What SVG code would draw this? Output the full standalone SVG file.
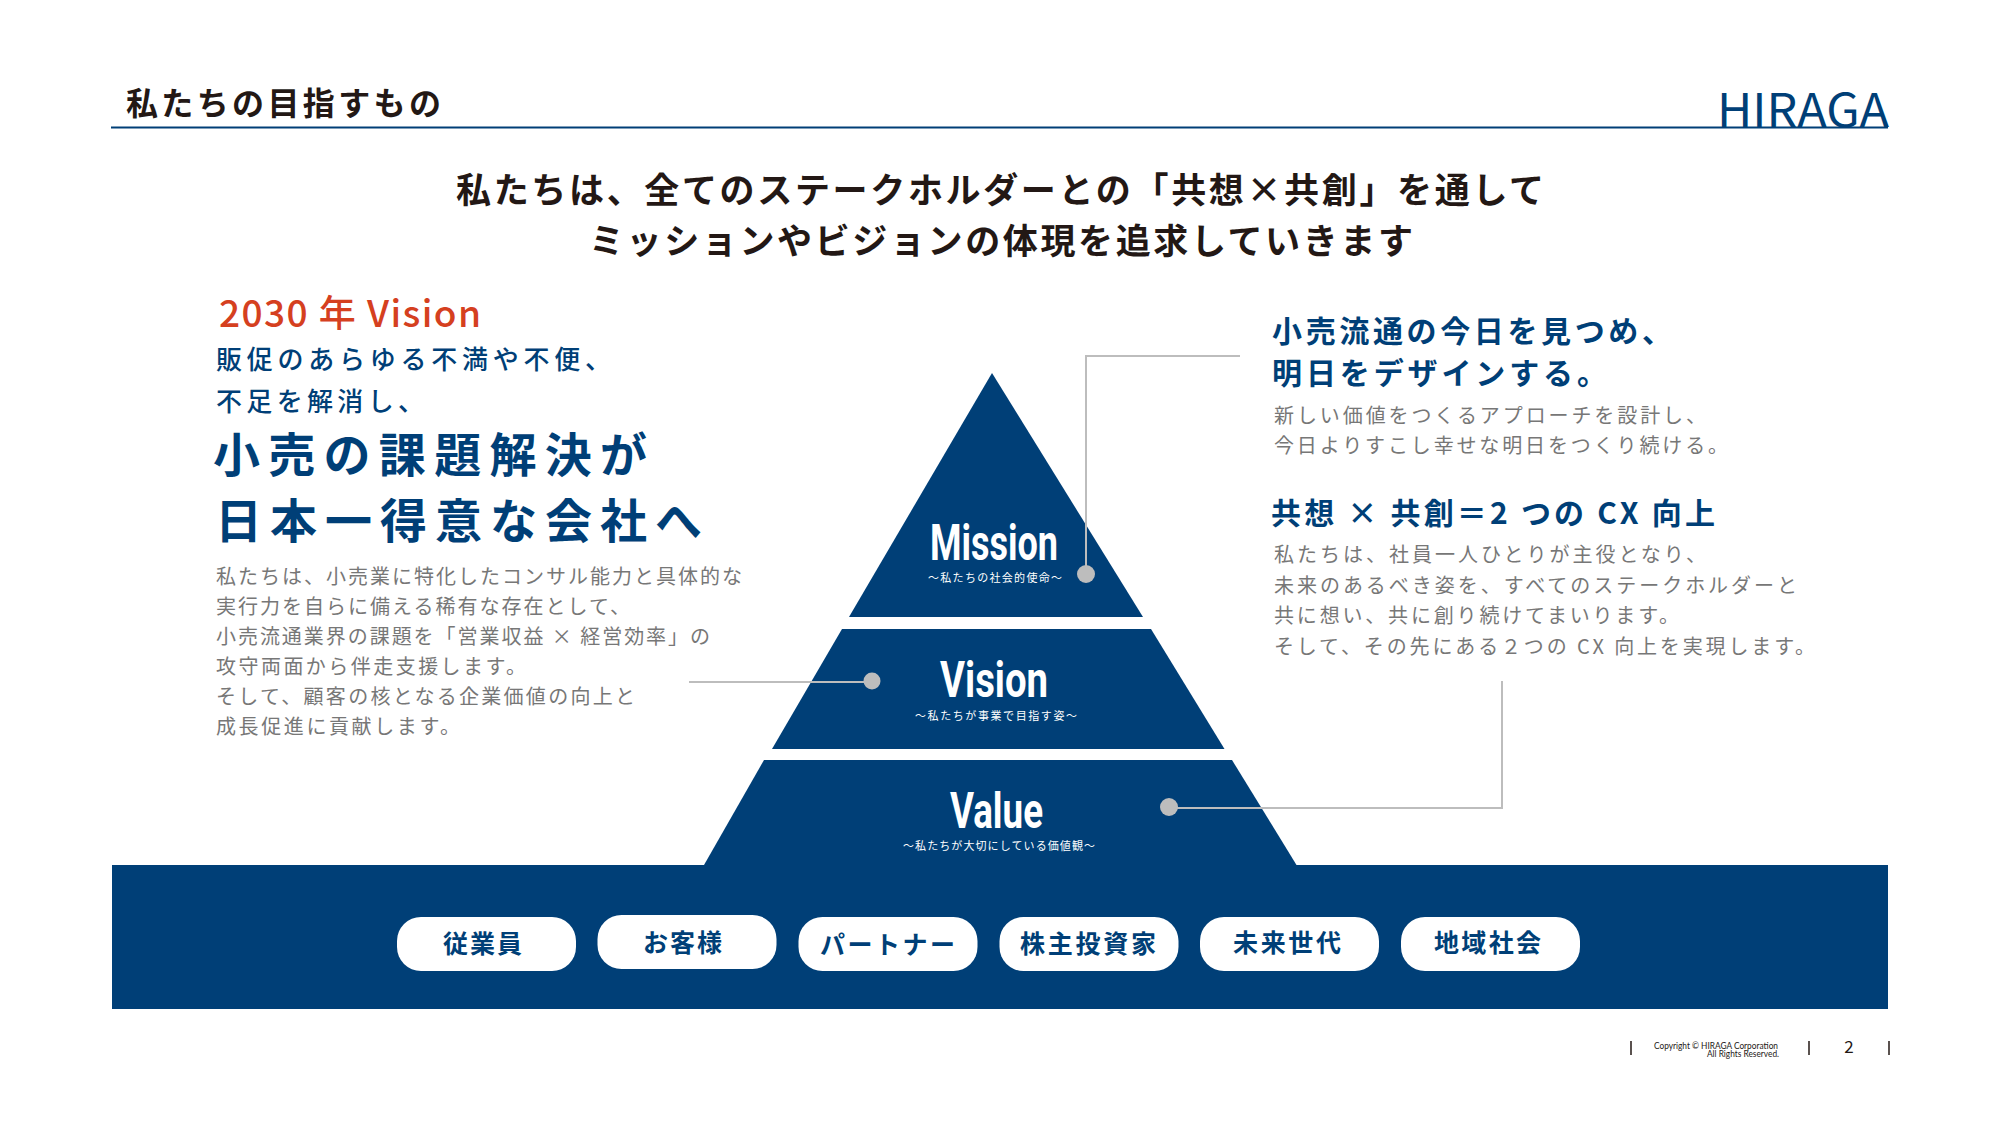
<svg xmlns="http://www.w3.org/2000/svg" width="2000" height="1121" viewBox="0 0 2000 1121">
<style>
text{font-family:"Noto Sans CJK JP","Noto Sans",sans-serif;white-space:pre}
.blk{fill:#231815;font-weight:700}
.blu{fill:#003f77;font-weight:500}
.big{fill:#003f77;font-weight:700;font-size:47px}
.hd{fill:#003f77;font-weight:700;font-size:30px}
.body{fill:#777;font-size:20px;font-weight:400}
.lab{fill:#fff;font-family:"Roboto",sans-serif;font-weight:700;font-size:50px}
.sub{fill:#fff;font-size:11px;font-weight:400}
.pill{fill:#fff}
.pt{fill:#003f77;font-size:25px;font-weight:700}
.con{fill:none;stroke:#bdbdbd;stroke-width:2}
.dot{fill:#bdbdbd}
.tick{stroke:#231815;stroke-width:1.5}
.shape{fill:#003f77}
.foot{fill:#231815;font-family:"Lato",sans-serif;font-size:8.5px}
</style>
<rect width="2000" height="1121" fill="#fff"/>
<g id="header">
<text class="blk" x="126" y="115" font-size="32" textLength="315">私たちの目指すもの</text>
<line x1="111" y1="127.5" x2="1888" y2="127.5" stroke="#003f77" stroke-width="2"/>
<text x="1717" y="127" font-family="Lato" font-weight="400" font-size="47" fill="#003f77" textLength="172" lengthAdjust="spacingAndGlyphs">HIRAGA</text>
</g>
<g id="lead">
<text class="blk" x="456" y="203" font-size="35" textLength="1088">私たちは、全てのステークホルダーとの「共想×共創」を通して</text>
<text class="blk" x="589" y="254" font-size="35" textLength="824">ミッションやビジョンの体現を追求していきます</text>
</g>
<g id="vision-text">
<text x="219" y="327" font-size="37" font-weight="500" fill="#d5401f" textLength="262">2030 年 Vision</text>
<text class="blu" x="216" y="369" font-size="26" textLength="395" font-weight="700">販促のあらゆる不満や不便、</text>
<text class="blu" x="216" y="411" font-size="26" textLength="208" font-weight="700">不足を解消し、</text>
<text class="big" x="213" y="472" textLength="434">小売の課題解決が</text>
<text class="big" x="215" y="538" textLength="487">日本一得意な会社へ</text>
<text class="body" x="216" y="584" textLength="526">私たちは、小売業に特化したコンサル能力と具体的な</text>
<text class="body" x="216" y="614" textLength="414">実行力を自らに備える稀有な存在として、</text>
<text class="body" x="216" y="644" textLength="494">小売流通業界の課題を「営業収益 × 経営効率」の</text>
<text class="body" x="216" y="674" textLength="310">攻守両面から伴走支援します。</text>
<text class="body" x="216" y="704" textLength="419">そして、顧客の核となる企業価値の向上と</text>
<text class="body" x="216" y="734" textLength="244">成長促進に貢献します。</text>
</g>
<g id="right-text">
<text class="hd" x="1272" y="342" textLength="400">小売流通の今日を見つめ、</text>
<text class="hd" x="1272" y="384" textLength="335">明日をデザインする。</text>
<text class="body" x="1274" y="423" textLength="432">新しい価値をつくるアプローチを設計し、</text>
<text class="body" x="1274" y="453" textLength="454">今日よりすこし幸せな明日をつくり続ける。</text>
<text class="hd" x="1271" y="524" textLength="444">共想 × 共創＝2 つの CX 向上</text>
<text class="body" x="1274" y="562" textLength="432">私たちは、社員一人ひとりが主役となり、</text>
<text class="body" x="1274" y="593" textLength="523">未来のあるべき姿を、すべてのステークホルダーと</text>
<text class="body" x="1274" y="623" textLength="405">共に想い、共に創り続けてまいります。</text>
<text class="body" x="1274" y="654" textLength="541">そして、その先にある２つの CX 向上を実現します。</text>
</g>
<g id="base-band"><rect class="shape" x="112" y="865" width="1776" height="144"/></g>
<g id="mission">
<polygon class="shape" points="992,373 849,617 1143,617"/>
<text class="lab" x="930" y="560" textLength="128" lengthAdjust="spacingAndGlyphs">Mission</text>
<text class="sub" x="928" y="582" textLength="134">～私たちの社会的使命～</text>
</g>
<g id="vision">
<polygon class="shape" points="842,629 1151,629 1224.5,749 772,749"/>
<text class="lab" x="940" y="697" textLength="108" lengthAdjust="spacingAndGlyphs">Vision</text>
<text class="sub" x="915" y="720" textLength="162">～私たちが事業で目指す姿～</text>
</g>
<g id="value">
<polygon class="shape" points="764,760 1232,760 1296.5,865 704,865"/>
<text class="lab" x="950" y="828" textLength="93" lengthAdjust="spacingAndGlyphs">Value</text>
<text class="sub" x="903" y="850" textLength="192">～私たちが大切にしている価値観～</text>
</g>
<g id="connectors">
<path class="con" d="M1240 356H1086V573"/>
<path class="con" d="M689 682H872"/>
<path class="con" d="M1169 808H1502V681"/>
<circle class="dot" cx="1086" cy="574" r="9"/>
<circle class="dot" cx="872" cy="681" r="8.5"/>
<circle class="dot" cx="1169" cy="807" r="9"/>
</g>
<g id="s1"><rect class="pill" x="397" y="917" width="179" height="54" rx="24"/><text class="pt" x="443" y="953" textLength="79">従業員</text></g>
<g id="s2"><rect class="pill" x="597.5" y="915" width="179" height="54" rx="24"/><text class="pt" x="643" y="951.5" textLength="79">お客様</text></g>
<g id="s3"><rect class="pill" x="798.5" y="917" width="179" height="54" rx="24"/><text class="pt" x="820" y="954" textLength="135">パートナー</text></g>
<g id="s4"><rect class="pill" x="999.5" y="917" width="179" height="54" rx="24"/><text class="pt" x="1020" y="953" textLength="136">株主投資家</text></g>
<g id="s5"><rect class="pill" x="1200" y="917" width="179" height="54" rx="24"/><text class="pt" x="1233" y="952" textLength="108">未来世代</text></g>
<g id="s6"><rect class="pill" x="1401" y="917" width="179" height="54" rx="24"/><text class="pt" x="1434" y="952" textLength="107">地域社会</text></g>
<g id="footer">
<line class="tick" x1="1631" y1="1041" x2="1631" y2="1055"/>
<line class="tick" x1="1809" y1="1041" x2="1809" y2="1055"/>
<line class="tick" x1="1889" y1="1041" x2="1889" y2="1055"/>
<text class="foot" x="1654" y="1049" textLength="124" lengthAdjust="spacingAndGlyphs">Copyright © HIRAGA Corporation</text>
<text class="foot" x="1707" y="1057" textLength="72" lengthAdjust="spacingAndGlyphs">All Rights Reserved.</text>
<text x="1849" y="1053" text-anchor="middle" font-family="Liberation Sans" font-size="17" fill="#231815">2</text>
</g>
</svg>
